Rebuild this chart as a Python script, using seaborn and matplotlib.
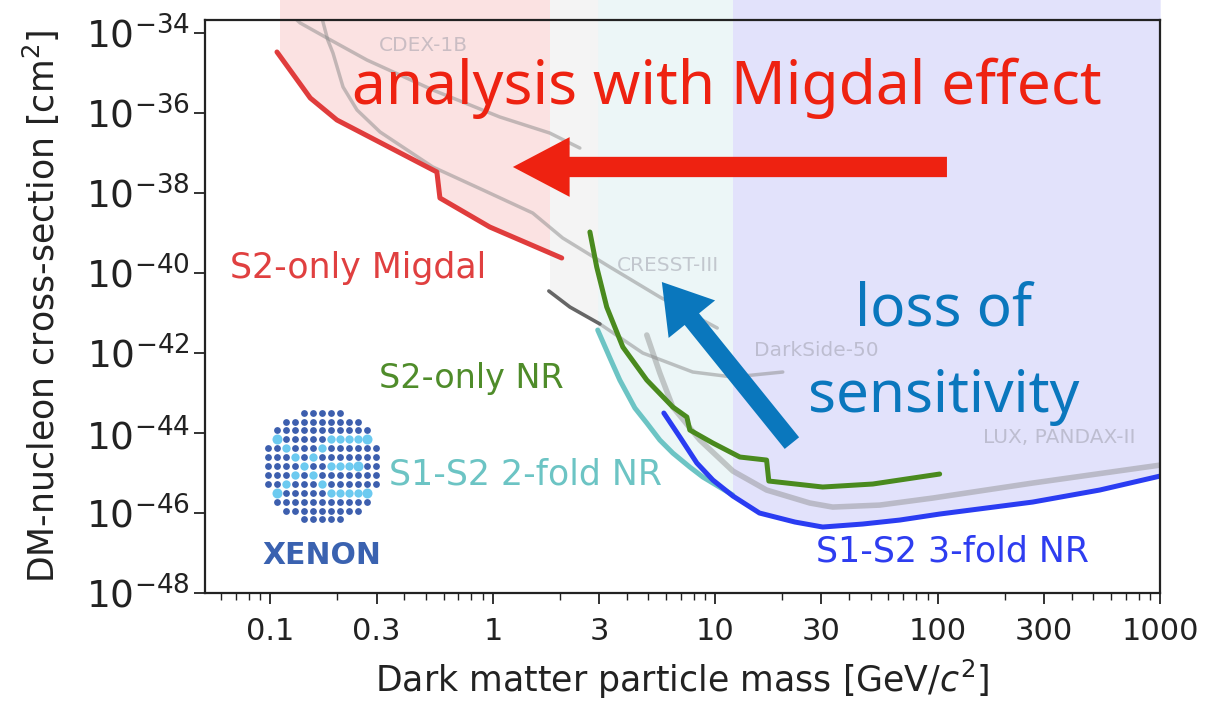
import numpy as np
import pandas as pd
import matplotlib
matplotlib.use("Agg")
import matplotlib.pyplot as plt
from matplotlib.patches import Rectangle
from matplotlib.ticker import FixedLocator, NullLocator, NullFormatter
import seaborn as sns

# ---- limits (mass in GeV/c^2, cross-section in cm^2) ----
migdal_mass = [0.107, 0.151, 0.199, 0.560, 0.578, 0.969, 2.04]
migdal_xs = [3.35e-35, 2.37e-36, 6.68e-37, 3.35e-38, 7.50e-39, 1.41e-39, 2.37e-40]

s2nr_mass = [2.73, 2.93, 3.25, 3.84, 4.92, 6.44, 7.45, 7.68, 9.75, 12.9, 17.0, 17.4, 30.4, 51.0, 102]
s2nr_xs = [1.06e-39, 1.41e-40, 1.41e-41, 1.41e-42, 2.11e-43, 4.47e-44, 2.51e-44, 1.19e-44,
           5.62e-45, 2.51e-45, 2.11e-45, 6.31e-46, 4.47e-46, 5.31e-46, 9.44e-46]

twofold_mass = [2.96, 3.36, 3.72, 4.35, 4.92, 5.63, 6.44, 7.68, 8.79, 11.98]
twofold_xs = [3.76e-42, 7.50e-43, 2.11e-43, 4.22e-44, 1.78e-44, 6.68e-45, 3.16e-45, 1.41e-45,
              7.94e-46, 2.82e-46]

threefold_mass = [5.87, 6.93, 8.26, 9.75, 12.0, 15.8, 22.8, 30.4, 46.0, 67.5, 102, 267, 535, 1000]
threefold_xs = [3.16e-44, 7.94e-45, 1.78e-45, 6.68e-46, 2.66e-46, 1.00e-46, 5.96e-47, 4.47e-47,
                5.31e-47, 6.68e-47, 9.44e-47, 1.88e-46, 3.76e-46, 8.41e-46]

# other experiments (grey)
cdex_mass = [0.116, 0.136, 0.1795, 0.2716, 0.537, 1.075, 1.80, 2.46]
cdex_xs = [3.98e-34, 1.78e-34, 7.50e-35, 2.11e-35, 3.76e-36, 7.94e-37, 3.16e-37, 1.33e-37]

cresst_mass = [0.169, 0.181, 0.191, 0.212, 0.245, 0.311, 0.537, 0.902, 1.51, 2.06, 3.36, 5.63, 10.2]
cresst_xs = [2.82e-34, 6.68e-35, 3.16e-35, 4.47e-36, 1.19e-36, 3.35e-37, 4.47e-38, 1.19e-38,
             3.16e-39, 7.50e-40, 1.41e-40, 2.51e-41, 4.22e-42]

ds50_low_mass = [1.785, 2.22, 3.03]
ds50_low_xs = [3.55e-41, 1.41e-41, 5.31e-42]

ds50_mass = [3.03, 4.72, 7.92, 12.0, 20.1]
ds50_xs = [5.31e-42, 1.00e-42, 3.35e-43, 2.51e-43, 3.35e-43]

lux_mass = [4.92, 5.63, 6.44, 8.52, 12.0, 17.0, 26.6, 33.7, 54.8, 95.0, 267, 1000]
lux_xs = [2.82e-42, 3.16e-43, 4.47e-44, 6.68e-45, 1.12e-45, 3.76e-46, 1.78e-46, 1.41e-46,
          1.58e-46, 2.37e-46, 5.62e-46, 1.58e-45]

x_ticks = [0.1, 0.3, 1, 3, 10, 30, 100, 300, 1000]
x_ticklabels = ["0.1", "0.3", "1", "3", "10", "30", "100", "300", "1000"]
y_exponents = [-48, -46, -44, -42, -40, -38, -36, -34]

sns.set_style("ticks")
plt.rcParams["font.family"] = ["DejaVu Sans"]

fig = plt.figure(figsize=(12.06, 7.01), dpi=100)
ax = fig.add_axes([0.170, 0.154, 0.792, 0.8175])
ax.set_xscale("log")
ax.set_yscale("log")
ax.set_xlim(0.0508, 1000)
ax.set_ylim(1e-48, 10 ** -33.675)


def band(mass, xs, lo, hi, color):
    poly = ax.fill_between(mass, xs, 1e-30, color=color, lw=0, zorder=0)
    poly.set_clip_path(Rectangle((lo, 1e-52), hi - lo, 1e-28, transform=ax.transData))


band(migdal_mass, migdal_xs, 0.11, 1.8, "#fbe2e2")
band(ds50_low_mass, ds50_low_xs, 1.8, 2.96, "#f4f4f4")
band(twofold_mass, twofold_xs, 2.96, 11.98, "#ecf6f7")
band(threefold_mass, threefold_xs, 11.98, 1000, "#e2e2fb")


def curve(mass, xs, color, lw, alpha=1.0, z=2):
    df = pd.DataFrame({"mass": mass, "xs": xs})
    sns.lineplot(data=df, x="mass", y="xs", sort=False, estimator=None, ax=ax,
                 color=color, lw=lw, alpha=alpha, zorder=z)


grey = "#8a8a8a"
curve(cdex_mass, cdex_xs, grey, 2.5, 0.5, 1)
curve(cresst_mass, cresst_xs, grey, 2.5, 0.5, 1)
curve(ds50_mass, ds50_xs, grey, 2.5, 0.5, 1)
curve(lux_mass, lux_xs, grey, 4.0, 0.45, 1)
curve(ds50_low_mass, ds50_low_xs, "#666666", 2.6, 1.0, 1)

curve(migdal_mass, migdal_xs, "#e03c3c", 3.6)
curve(twofold_mass, twofold_xs, "#6cc4c4", 3.6)
curve(s2nr_mass, s2nr_xs, "#4a8a1e", 3.6)
curve(threefold_mass, threefold_xs, "#2a3cf2", 3.6)

# grey experiment labels
for txt, xa, ya in [("CDEX-1B", 0.229, 0.955), ("CRESST-III", 0.485, 0.572),
                    ("DarkSide-50", 0.640, 0.424), ("LUX, PANDAX-II", 0.894, 0.272)]:
    ax.text(xa, ya, txt, transform=ax.transAxes, ha="center", va="center",
            fontsize=14.5, color="#9a9aa6", alpha=0.5)

# coloured labels
ax.text(0.160, 0.567, "S2-only Migdal", transform=ax.transAxes, ha="center", va="center",
        fontsize=25, color="#e04040")
ax.text(0.279, 0.375, "S2-only NR", transform=ax.transAxes, ha="center", va="center",
        fontsize=24, color="#4f8c2a")
ax.text(0.336, 0.206, "S1-S2 2-fold NR", transform=ax.transAxes, ha="center", va="center",
        fontsize=25, color="#6cc4c4")
ax.text(0.783, 0.072, "S1-S2 3-fold NR", transform=ax.transAxes, ha="center", va="center",
        fontsize=25, color="#2e3df0")

# annotations
big_font = ["Noto Sans", "DejaVu Sans"]
ax.text(0.546, 0.881, "analysis with Migdal effect", transform=ax.transAxes, ha="center",
        va="center", fontsize=43.5, color="#ee2211", family=big_font)
ax.text(0.773, 0.466, "loss of", transform=ax.transAxes, ha="center",
        va="baseline", fontsize=42, color="#0a77bd", family=big_font)
ax.text(0.773, 0.316, "sensitivity", transform=ax.transAxes, ha="center",
        va="baseline", fontsize=42, color="#0a77bd", family=big_font)

ax.annotate("", xy=(1.23, 4.47e-38), xytext=(110, 4.47e-38),
            arrowprops=dict(arrowstyle="simple,head_length=0.95,head_width=1.0,tail_width=0.34",
                            mutation_scale=43, color="#ee2211", lw=0, shrinkA=0, shrinkB=0))
ax.annotate("", xy=(5.75, 5.96e-41), xytext=(22.1, 5.6e-45),
            arrowprops=dict(arrowstyle="simple,head_length=0.8,head_width=1.0,tail_width=0.31",
                            mutation_scale=43, color="#0a77bd", lw=0, shrinkA=0, shrinkB=0))

# XENON logo (dot disc)
row_half = [2, 4, 5, 5, 6, 6, 6, 6, 6, 5, 5, 4, 2]
light = {(3, 1), (3, 7), (3, 8), (3, 9), (3, 10), (3, 11), (4, 2), (4, 6), (5, 3), (5, 5),
         (6, 4), (6, 7), (6, 8), (6, 9), (6, 10), (7, 3), (7, 5), (8, 2), (8, 6),
         (9, 1), (9, 7), (9, 8), (9, 9), (9, 10), (9, 11)}
big = {(3, 1), (3, 11), (9, 1), (9, 11), (6, 10)}
cx, cy, dx, dy = 321.7, 466.0, 9.0, 8.9
dark_pts, light_pts, big_pts = [], [], []
for r, h in enumerate(row_half):
    for c in range(6 - h, 7 + h):
        px = cx + (c - 6) * dx
        py = cy + (r - 6) * dy
        pt = ((px - 205) / 955, (593 - py) / 573)
        if (r, c) in big:
            big_pts.append(pt)
        elif (r, c) in light:
            light_pts.append(pt)
        else:
            dark_pts.append(pt)
for pts, col, s in [(dark_pts, "#3d5fae", 24), (light_pts, "#6ccaf0", 36), (big_pts, "#6ccaf0", 52)]:
    pts = np.array(pts)
    ax.scatter(pts[:, 0], pts[:, 1], s=s, color=col, lw=0, transform=ax.transAxes, zorder=3)
ax.text((322 - 205) / 955, (593 - 555) / 573, "XENON", transform=ax.transAxes, ha="center",
        va="center", fontsize=21.5, fontweight="bold", color="#3a62b0")

# axes styling
ax.xaxis.set_major_locator(FixedLocator(x_ticks))
ax.set_xticklabels(x_ticklabels)
minor = [v * m for v in [0.01, 0.1, 1, 10, 100] for m in [2, 4, 5, 6, 7, 8, 9]]
ax.xaxis.set_minor_locator(FixedLocator(minor))
ax.xaxis.set_minor_formatter(NullFormatter())
ax.yaxis.set_major_locator(FixedLocator([10.0 ** e for e in y_exponents]))
ax.set_yticklabels([r"$10^{%d}$" % e for e in y_exponents])
ax.yaxis.set_minor_locator(NullLocator())
ax.tick_params(axis="x", which="major", labelsize=22, length=8, width=1.3, color="#222222",
               direction="out", pad=9)
ax.tick_params(axis="y", which="major", labelsize=27, length=8, width=1.3, color="#222222",
               direction="out", pad=3)
ax.tick_params(axis="x", which="minor", length=5, width=1.0, color="#222222", direction="out")
for sp in ax.spines.values():
    sp.set_linewidth(1.6)
    sp.set_color("#222222")
    sp.set_visible(True)
ax.set_xlabel(r"Dark matter particle mass [GeV/$c^2$]", fontsize=25, color="#222222", labelpad=9)
ax.set_ylabel(r"DM-nucleon cross-section [cm$^2$]", fontsize=25, color="#222222", labelpad=17)
ax.tick_params(labelcolor="#222222")

fig.savefig("out.png", dpi=100)
